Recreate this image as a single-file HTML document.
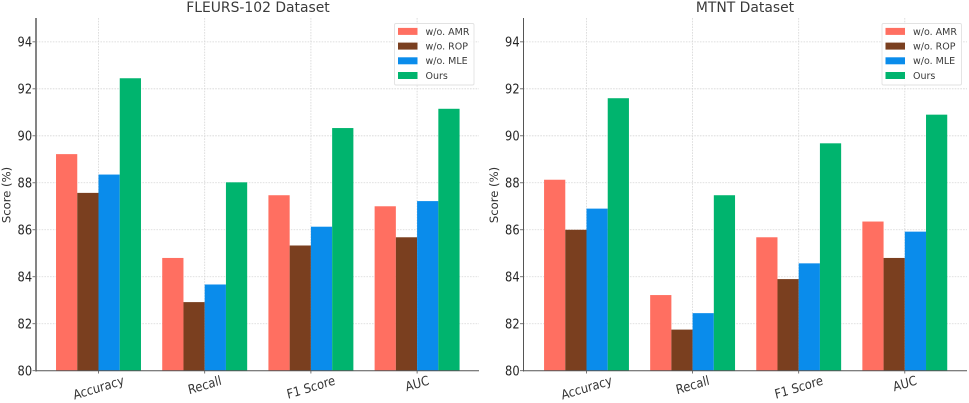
<!DOCTYPE html>
<html lang="en">
<head>
<meta charset="utf-8">
<title>FLEURS-102 and MTNT Dataset Scores</title>
<style>
html,body{margin:0;padding:0;background:#fff;width:969px;height:403px;overflow:hidden}
svg{display:block;filter:blur(.3px)}
text{font-family:"DejaVu Sans","Liberation Sans",sans-serif}
</style>
</head>
<body>
<svg id="chart" xmlns="http://www.w3.org/2000/svg" width="969" height="403" viewBox="0 0 969 403"></svg>
<script>
const categories = ['Accuracy', 'Recall', 'F1 Score', 'AUC'];
const seriesNames = ['w/o. AMR', 'w/o. ROP', 'w/o. MLE', 'Ours'];
const seriesColors = ['#ff6f61', '#7a3f1f', '#0a8ceb', '#00b46e'];
const yTicks = [80, 82, 84, 86, 88, 90, 92, 94];
const fleursTitle = 'FLEURS-102 Dataset';
const fleursAmr = [89.22, 84.8, 87.47, 87.0];
const fleursRop = [87.57, 82.92, 85.33, 85.68];
const fleursMle = [88.35, 83.67, 86.13, 87.22];
const fleursOurs = [92.45, 88.02, 90.33, 91.15];
const mtntTitle = 'MTNT Dataset';
const mtntAmr = [88.13, 83.22, 85.68, 86.35];
const mtntRop = [86.0, 81.75, 83.9, 84.8];
const mtntMle = [86.9, 82.45, 84.57, 85.92];
const mtntOurs = [91.6, 87.47, 89.68, 90.9];

const NS = 'http://www.w3.org/2000/svg';
const svg = document.getElementById('chart');

function make(parent, tag, attrs, content) {
  const el = document.createElementNS(NS, tag);
  for (const k in attrs) el.setAttribute(k, attrs[k]);
  if (content !== undefined) el.textContent = content;
  parent.appendChild(el);
  return el;
}

function drawPanel(panelName, title, seriesValues, layout) {
  const yOf = v => 370.7 - (v - 80) * 23.49;
  const groupX = i => layout.firstCenter + i * layout.step;
  const barW = layout.step * 0.8 / seriesValues.length;

  const panel = make(svg, 'g', {});
  
  

  const titleEl = make(panel, 'text', {x: layout.titleX, y: 12, 'text-anchor': 'middle', 'font-size': 13.9, fill: '#3a3a3a'}, title);
  
  

  yTicks.slice(1).forEach(t => {
    const line = make(panel, 'line', {x1: layout.left, x2: layout.right, y1: yOf(t), y2: yOf(t), stroke: '#d6d6d6', 'stroke-width': 0.8, 'stroke-dasharray': '1.6 1.2'});
    
    
  });
  categories.forEach((c, i) => {
    const line = make(panel, 'line', {x1: groupX(i), x2: groupX(i), y1: 18, y2: 370.7, stroke: '#d6d6d6', 'stroke-width': 0.8, 'stroke-dasharray': '1.6 1.2'});
    
    
  });

  seriesValues.forEach((vals, s) => {
    vals.forEach((v, i) => {
      const x = groupX(i) - barW * seriesValues.length / 2 + s * barW;
      const bar = make(panel, 'rect', {x: x, y: yOf(v), width: barW, height: yOf(80) - yOf(v), fill: seriesColors[s]});
      
      
    });
  });

  yTicks.forEach(t => {
    const tick = make(panel, 'line', {x1: layout.left - 3.5, x2: layout.left, y1: yOf(t), y2: yOf(t), stroke: '#555', 'stroke-width': 0.8});
    
    
    const label = make(panel, 'text', {'text-anchor': 'end', 'font-size': 13, fill: '#262626', transform: 'translate(' + (layout.left - 3.9) + ' ' + (yOf(t) + 4.8) + ') scale(.88 1)'}, String(t));
    
    
  });

  categories.forEach((c, i) => {
    const tick = make(panel, 'line', {x1: groupX(i), x2: groupX(i), y1: 370.7, y2: 373.5, stroke: '#555', 'stroke-width': 0.8});
    
    
    const label = make(panel, 'text', {'text-anchor': 'middle', 'font-size': 13, fill: '#333'}, c);
    const w = label.getComputedTextLength();
    const cy = 373.9 + (w * Math.sin(Math.PI / 12) + 12.5 * Math.cos(Math.PI / 12)) / 2;
    label.setAttribute('transform', 'translate(' + groupX(i) + ' ' + cy + ') scale(.88 1) rotate(-15) translate(0 4.5)');
    
    
  });

  const spineY = make(panel, 'line', {x1: layout.left, x2: layout.left, y1: 18, y2: 371.5, stroke: layout.spineColor, 'stroke-width': layout.spineWidth});
  
  
  const spineX = make(panel, 'line', {x1: layout.left, x2: layout.right, y1: 370.7, y2: 370.7, stroke: '#555', 'stroke-width': 1});
  
  

  const yTitle = make(panel, 'text', {'text-anchor': 'middle', 'font-size': 11.6, fill: '#333', transform: 'translate(' + layout.yTitleX + ' 195) rotate(-90)'}, 'Score (%)');
  
  

  const legend = make(panel, 'g', {});
  
  
  const legendBox = make(legend, 'rect', {x: layout.legendX, y: 23.5, width: 79.5, height: 61.5, rx: 1.5, fill: '#fff', 'fill-opacity': 0.85, stroke: '#e2e2e2', 'stroke-width': 0.9});
  
  
  seriesNames.forEach((n, s) => {
    const ry = 31.4 + s * 14.7;
    const swatch = make(legend, 'rect', {x: layout.legendX + 3.5, y: ry - 3.5, width: 19.5, height: 7, fill: seriesColors[s]});
    
    
    const label = make(legend, 'text', {x: layout.legendX + 31, y: ry + 3.4, 'font-size': 9.5, fill: '#3a3a3a'}, n);
    
    
  });
}

drawPanel('fleurs-102-panel', fleursTitle, [fleursAmr, fleursRop, fleursMle, fleursOurs],
  {left: 36, right: 479, firstCenter: 98.5, step: 106.2, titleX: 258, yTitleX: 10.5, legendX: 394.5, spineColor: '#777', spineWidth: 1.8});
drawPanel('mtnt-panel', mtntTitle, [mtntAmr, mtntRop, mtntMle, mtntOurs],
  {left: 523.5, right: 967, firstCenter: 586.5, step: 106.1, titleX: 745, yTitleX: 498, legendX: 882, spineColor: '#555', spineWidth: 1});
</script>
</body>
</html>
